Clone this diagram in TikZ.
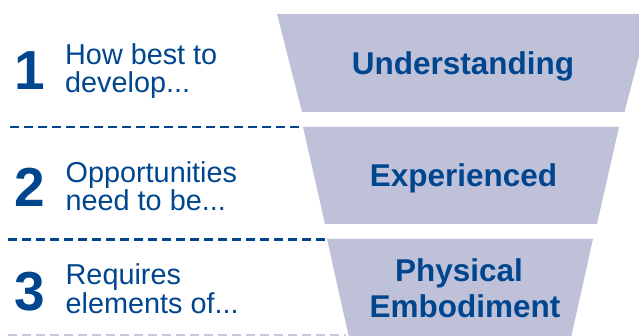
\documentclass[tikz,border=0pt]{standalone}
\usepackage{fontspec}
\setmainfont{Liberation Sans}
\definecolor{stageblue}{HTML}{00468F}
\definecolor{stagefill}{HTML}{BFC1D9}
\definecolor{rulelight}{HTML}{C2CADB}
\begin{document}
\begin{tikzpicture}[x=1pt,y=-1pt,
  stage/.style={fill=stagefill,draw=none},
  stagetext/.style={text=stageblue,font=\bfseries\fontsize{31.5}{35}\selectfont,
    inner sep=0pt,align=center},
  numtext/.style={text=stageblue,font=\bfseries\fontsize{55}{55}\selectfont,
    inner sep=0pt,anchor=base west},
  cuetext/.style={text=stageblue,font=\fontsize{28.8}{28}\selectfont,
    inner sep=0pt,anchor=base west},
  divider/.style={draw=stageblue,line width=2.4pt,dash pattern=on 9pt off 5pt},
  softdivider/.style={draw=rulelight,line width=1.6pt,dash pattern=on 9pt off 5pt}]
\useasboundingbox (0,0) rectangle (639,336);
\clip (0,0) rectangle (639,336);

% funnel stages
\fill[stage] (277,14) -- (650,14) -- (624.5,112) -- (302,112) -- cycle;
\fill[stage] (303,127) -- (619,127) -- (597,224) -- (325,224) -- cycle;
\fill[stage] (327,239) -- (593,239) -- (570,342) -- (350,342) -- cycle;

\node[stagetext,anchor=base] (s1) at (463,75) {Understanding};
\node[stagetext,anchor=base] (s2) at (463.5,187) {Experienced};
\node[stagetext,anchor=base] (s3a) at (459,282) {Physical};
\node[stagetext,anchor=base] (s3b) at (465,317) {Embodiment};

% dividers between rows
\coordinate (d1a) at (10,127);  \coordinate (d1b) at (301,127);
\coordinate (d2a) at (8,239.5); \coordinate (d2b) at (326,239.5);
\coordinate (d3a) at (8,335);   \coordinate (d3b) at (346,335);
\draw[divider] (d1a) -- (d1b);
\draw[divider] (d2a) -- (d2b);
\draw[softdivider] (d3a) -- (d3b);

% row numbers
\node[numtext] (n1) at (14,90) {1};
\node[numtext] (n2) at (14,207) {2};
\node[numtext] (n3) at (14,310) {3};

% row cues
\node[cuetext] (c1a) at (65,65) {How best to};
\node[cuetext] (c1b) at (65,93) {develop...};
\node[cuetext] (c2a) at (65.5,183) {Opportunities};
\node[cuetext] (c2b) at (65.5,211) {need to be...};
\node[cuetext] (c3a) at (65.5,285) {Requires};
\node[cuetext] (c3b) at (65.5,313) {elements of...};
\end{tikzpicture}
\end{document}
